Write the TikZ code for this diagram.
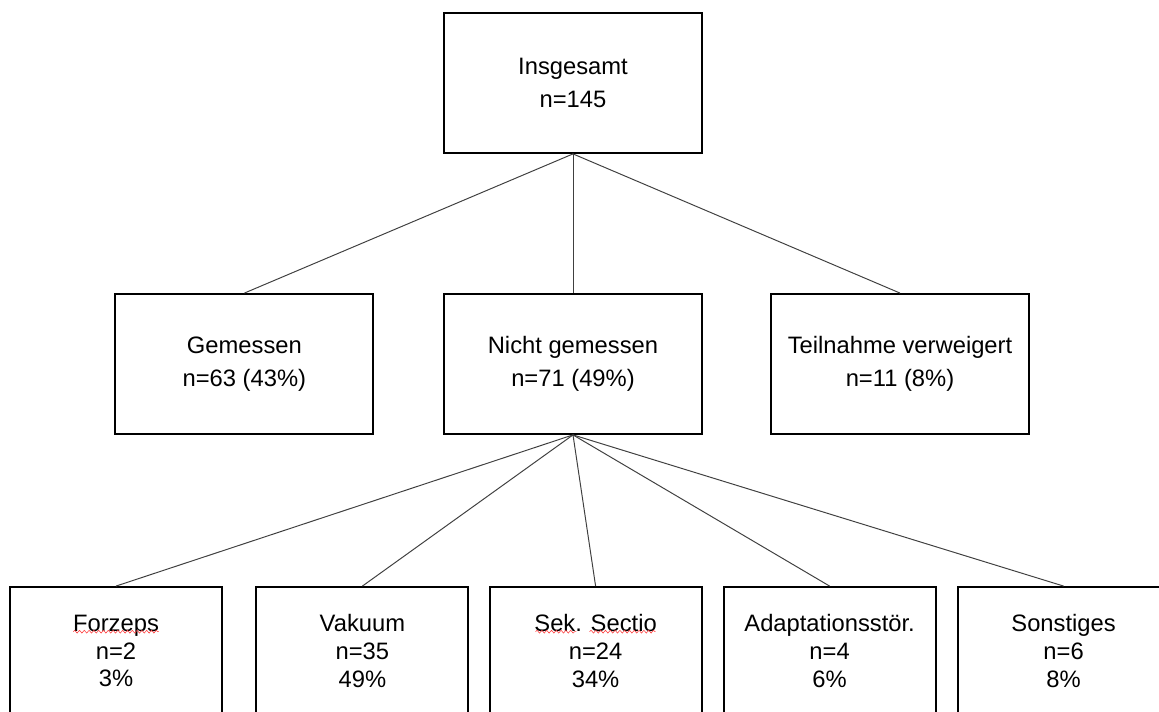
\documentclass[tikz,border=0pt]{standalone}
\usepackage{fontspec}
\setmainfont{Liberation Sans}
\usepackage{tikz}
\usetikzlibrary{decorations.pathmorphing}

\begin{document}
\begin{tikzpicture}[
    every node/.style={font=\fontsize{16.9}{23.5}\selectfont},
    grp/.style={
        draw,
        line width=1.3pt,
        align=center,
        inner sep=0pt,
        minimum width=6.45cm,
        minimum height=3.5cm
    },
    sub/.style={
        draw,
        line width=1.3pt,
        align=center,
        inner sep=0pt,
        minimum width=5.3cm,
        minimum height=3.2cm,
        font=\fontsize{16.9}{19.6}\selectfont
    },
    link/.style={black!75, line width=0.7pt},
    spell/.style={red!75, line width=0.4pt,
        decorate, decoration={snake, segment length=1.2mm, amplitude=0.35mm}}
]
\useasboundingbox (0,0) rectangle (28.975,17.775);
\clip (0,0) rectangle (28.975,17.775);

\node[grp] (total) at (14.325,15.7) {Insgesamt\\n=145};

\node[grp] (measured) at (6.11,8.675) {Gemessen\\n=63 (43\%)};
\node[grp] (notmeasured) at (14.325,8.675) {Nicht gemessen\\n=71 (49\%)};
\node[grp] (refused) at (22.5,8.675) {Teilnahme verweigert\\n=11 (8\%)};

\node[sub] (forceps) at (2.9,1.5) {Forzeps\\n=2\\3\%};
\node[sub] (vacuum) at (9.06,1.5) {Vakuum\\n=35\\49\%};
\node[sub] (section) at (14.89,1.5) {Sek. Sectio\\n=24\\34\%};
\node[sub] (adapt) at (20.74,1.5) {Adaptationsstör.\\n=4\\6\%};
\node[sub] (other) at (26.59,1.5) {Sonstiges\\n=6\\8\%};

\draw[link] (total.south) -- (measured.north);
\draw[link] (total.south) -- (notmeasured.north);
\draw[link] (total.south) -- (refused.north);

\draw[link] (notmeasured.south) -- (forceps.north);
\draw[link] (notmeasured.south) -- (vacuum.north);
\draw[link] (notmeasured.south) -- (section.north);
\draw[link] (notmeasured.south) -- (adapt.north);
\draw[link] (notmeasured.south) -- (other.north);

\draw[spell] ([shift={(-1.07,-1.14)}]forceps.north) -- ++(2.14,0);
\draw[spell] ([shift={(-1.5,-1.14)}]section.north) -- ++(1.02,0);
\draw[spell] ([shift={(-0.15,-1.14)}]section.north) -- ++(1.65,0);

\end{tikzpicture}
\end{document}
